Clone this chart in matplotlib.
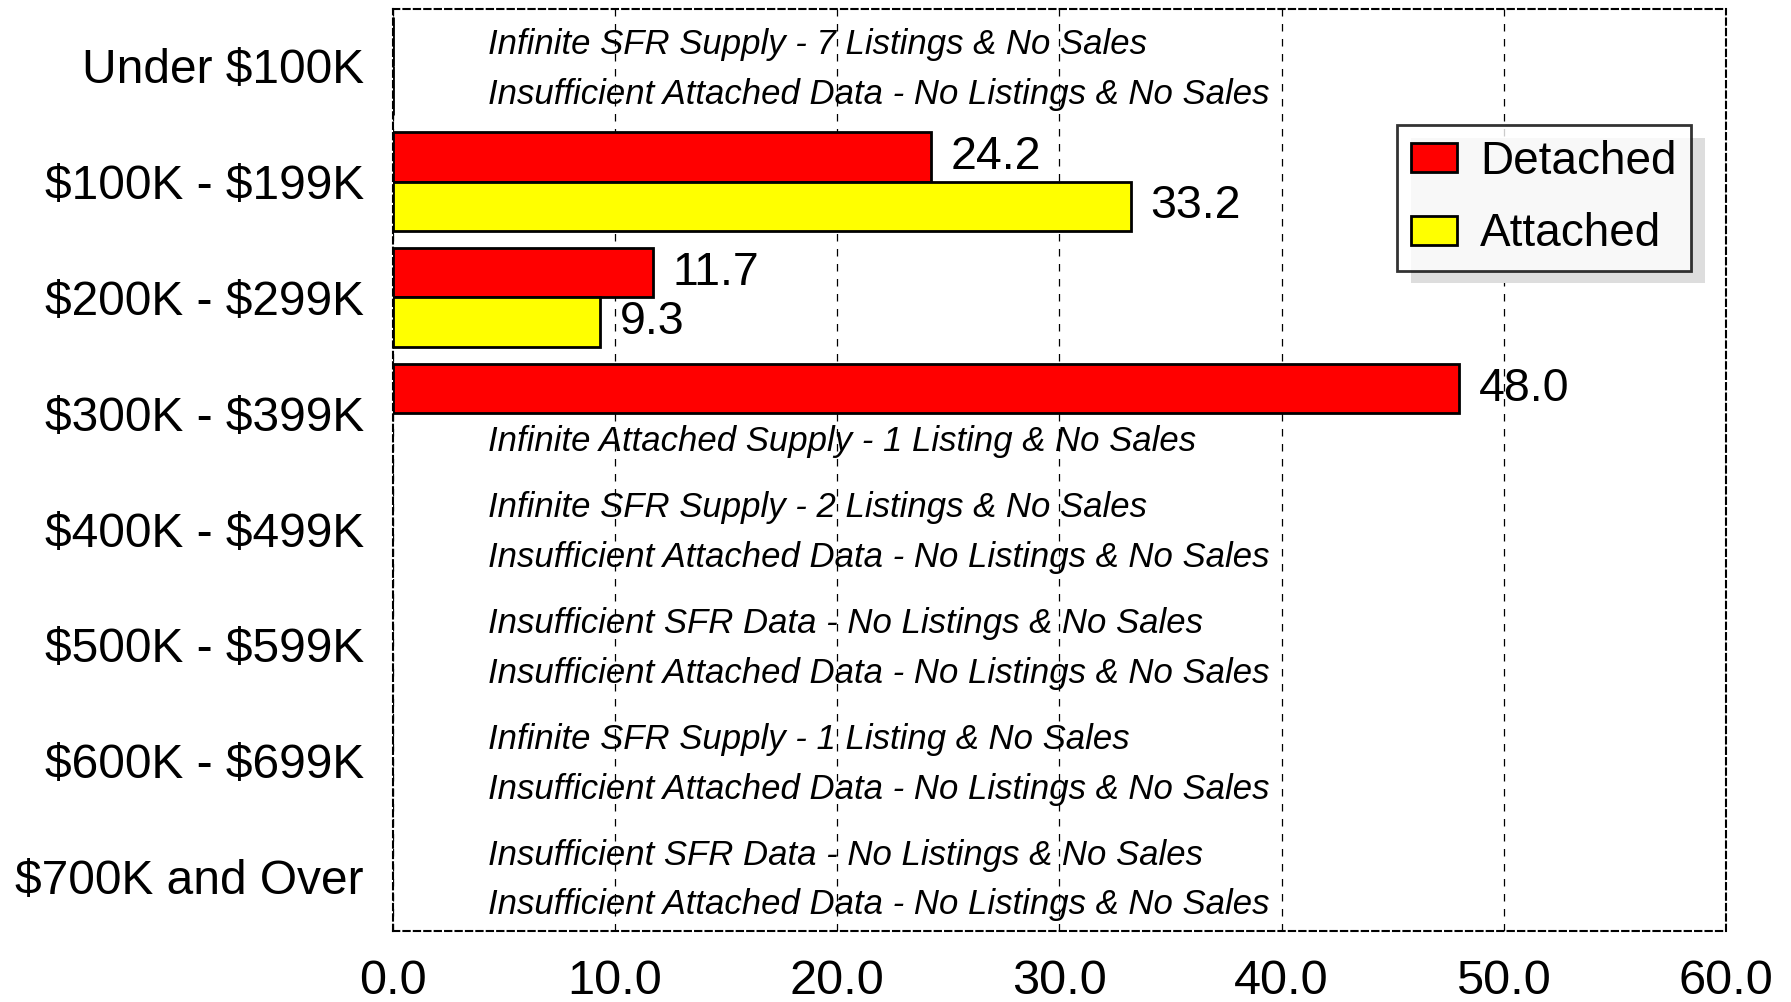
import matplotlib
matplotlib.use("Agg")
import matplotlib.pyplot as plt
import matplotlib.font_manager as fm
from matplotlib.patches import Shadow
import numpy as np

# Data
categories = ["Under \\$100K", "\\$100K - \\$199K", "\\$200K - \\$299K", "\\$300K - \\$399K",
              "\\$400K - \\$499K", "\\$500K - \\$599K", "\\$600K - \\$699K", "\\$700K and Over"]
detached = [0.0, 24.2, 11.7, 48.0, np.nan, np.nan, np.nan, np.nan]
attached = [0.0, 33.2, 9.3, np.nan, np.nan, np.nan, np.nan, np.nan]

# notes in the detached (SFR) slot and the attached slot of each category
notes_sfr = {
    0: "Infinite SFR Supply - 7 Listings & No Sales",
    4: "Infinite SFR Supply - 2 Listings & No Sales",
    5: "Insufficient SFR Data - No Listings & No Sales",
    6: "Infinite SFR Supply - 1 Listing & No Sales",
    7: "Insufficient SFR Data - No Listings & No Sales",
}
notes_att = {
    0: "Insufficient Attached Data - No Listings & No Sales",
    3: "Infinite Attached Supply - 1 Listing & No Sales",
    4: "Insufficient Attached Data - No Listings & No Sales",
    5: "Insufficient Attached Data - No Listings & No Sales",
    6: "Insufficient Attached Data - No Listings & No Sales",
    7: "Insufficient Attached Data - No Listings & No Sales",
}

names = {f.name for f in fm.fontManager.ttflist}
main_font = "Liberation Sans" if "Liberation Sans" in names else "DejaVu Sans"
narrow_font = "Liberation Sans Narrow" if "Liberation Sans Narrow" in names else main_font
plt.rcParams["font.family"] = [main_font, "DejaVu Sans"]
note_size = 27 if narrow_font != main_font else 25

fig = plt.figure(figsize=(17.91, 10.02), dpi=100)
ax = fig.add_axes([0.2194, 0.0709, 0.7443, 0.9201])

y = np.arange(len(categories))
h = 0.425
ax.barh(y - h / 2, detached, height=h, color="#ff0000", edgecolor="black",
        linewidth=2, label="Detached", zorder=3)
ax.barh(y + h / 2, attached, height=h, color="#ffff00", edgecolor="black",
        linewidth=2, label="Attached", zorder=3)

for i in range(len(categories)):
    for val, off in ((detached[i], -h / 2), (attached[i], h / 2)):
        if not np.isnan(val) and val > 0:
            ax.text(val + 0.9, y[i] + off, f"{val:.1f}", va="center", ha="left",
                    fontsize=33.5, zorder=4)

for i, txt in notes_sfr.items():
    ax.text(4.3, y[i] - 0.185, txt, va="center", ha="left", fontsize=note_size,
            style="italic", family=[narrow_font, "DejaVu Sans"], zorder=4)
for i, txt in notes_att.items():
    ax.text(4.3, y[i] + 0.245, txt, va="center", ha="left", fontsize=note_size,
            style="italic", family=[narrow_font, "DejaVu Sans"], zorder=4)

ax.set_xlim(0, 60)
ax.set_ylim(7.47, -0.49)
ax.set_xticks(np.arange(0, 61, 10))
ax.set_xticklabels([f"{v:.1f}" for v in np.arange(0, 61, 10)], fontsize=35)
ax.set_yticks(y)
ax.set_yticklabels(categories, fontsize=34.5)
ax.tick_params(axis="both", length=0)
ax.tick_params(axis="x", pad=20)
ax.tick_params(axis="y", pad=21)

ax.xaxis.grid(True, linestyle=(0, (6, 6)), color="black", linewidth=0.9, zorder=0)
for s in ax.spines.values():
    s.set_linestyle((0, (3, 2)))
    s.set_linewidth(1.5)

leg = ax.legend(loc="upper right", bbox_to_anchor=(0.974, 0.874), borderaxespad=0,
                fontsize=33, frameon=True, fancybox=False, edgecolor="black",
                handlelength=1.0, handleheight=0.6, handletextpad=0.5,
                borderpad=0.32, labelspacing=0.62)
leg.get_frame().set_linewidth(2)
leg.set_zorder(6)

# offset grey drop shadow behind the legend box
fig.canvas.draw()
sh = Shadow(leg.get_frame(), 10, -9, facecolor="#dddddd", edgecolor="none",
            alpha=1, zorder=5)
ax.add_artist(sh)

fig.savefig("out.png", dpi=100)
